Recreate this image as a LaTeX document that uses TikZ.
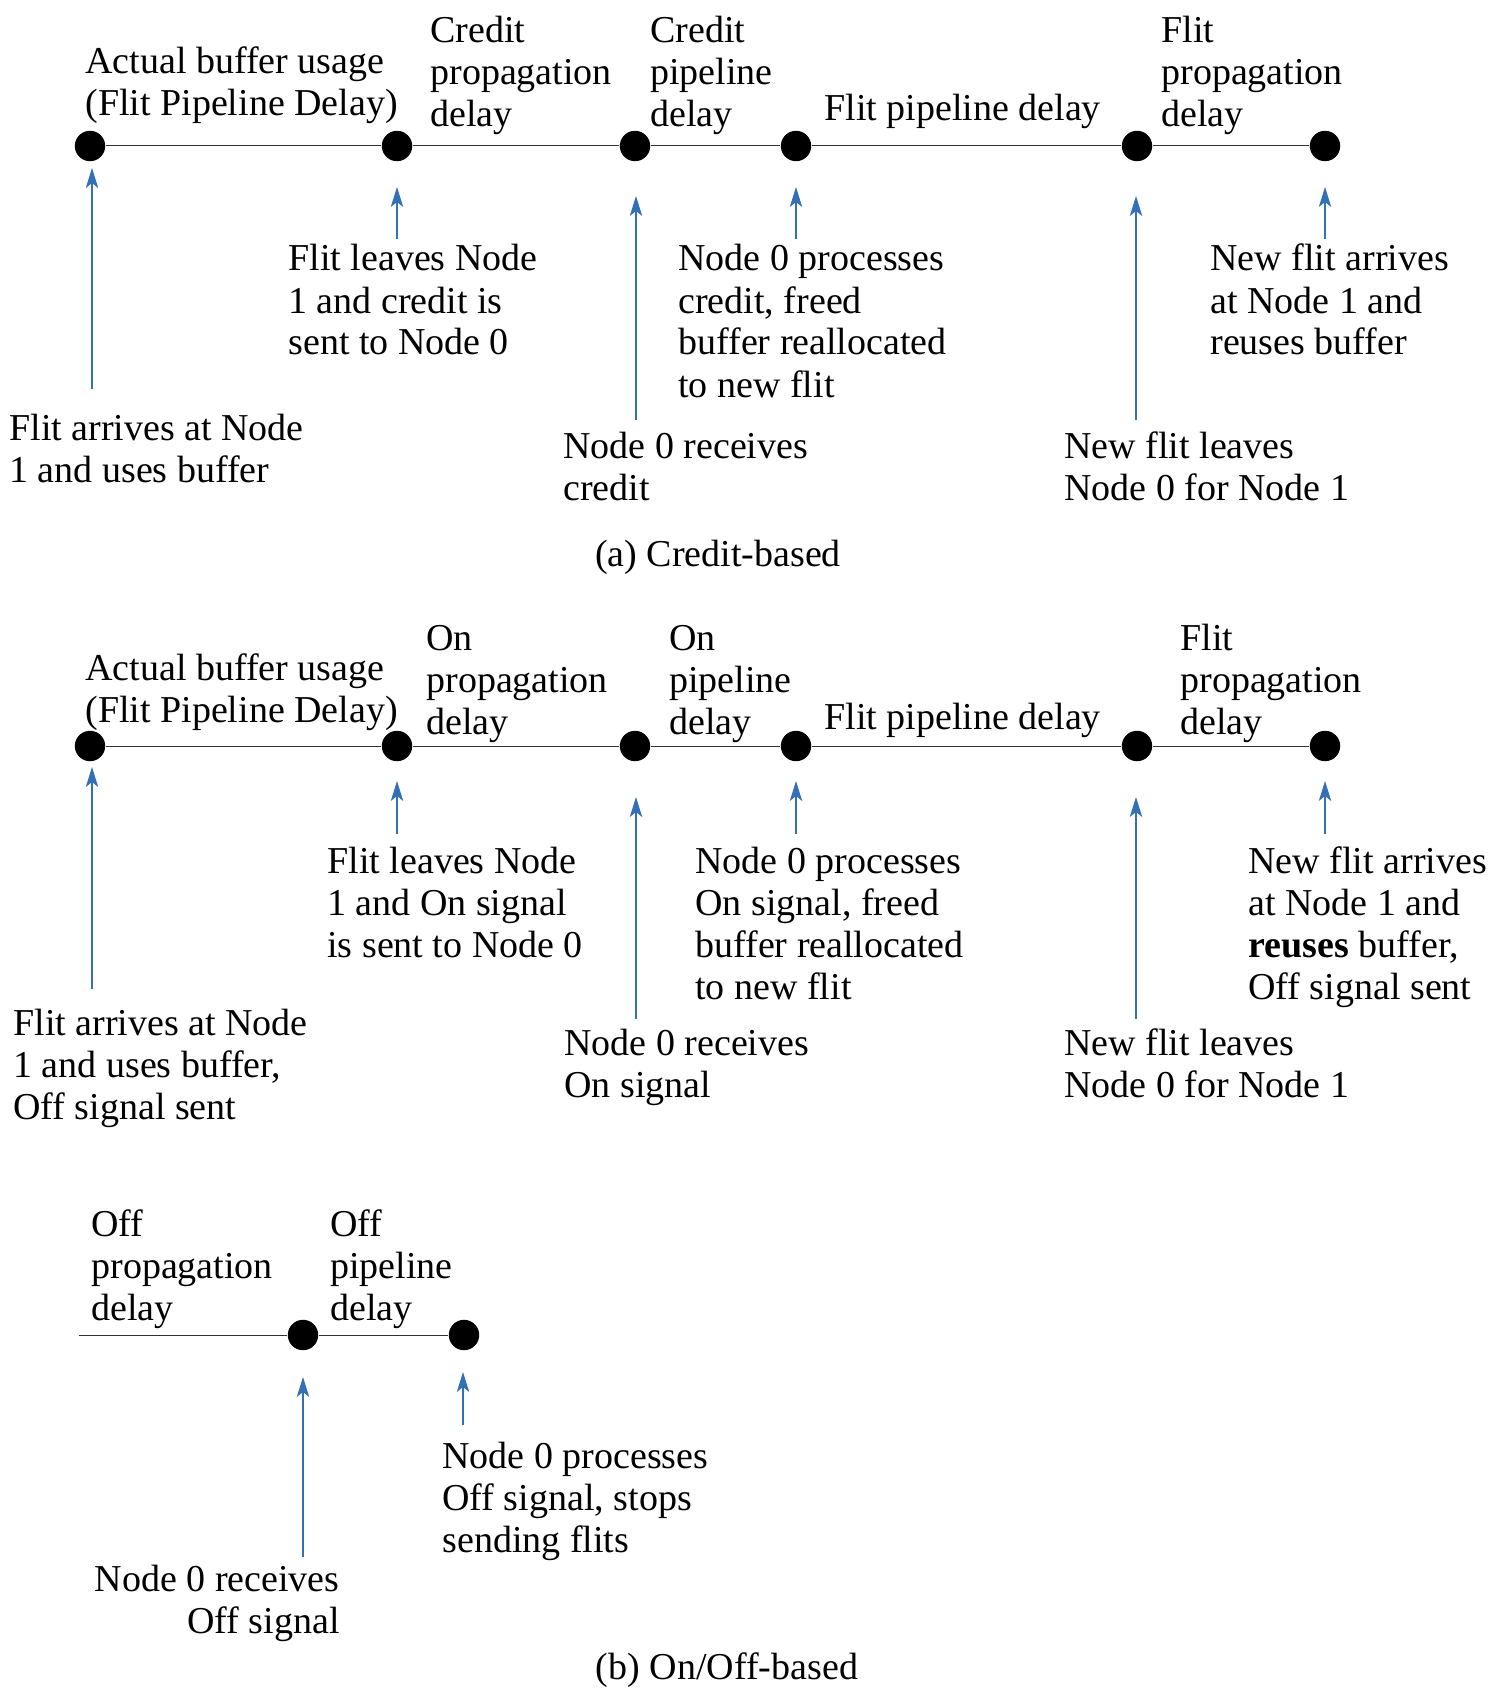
\documentclass[tikz,border=0pt]{standalone}
\usepackage{fontspec}
\setmainfont{Liberation Serif}
\usetikzlibrary{arrows.meta}
\definecolor{arrblue}{RGB}{52,112,180}
\definecolor{linegray}{RGB}{50,50,50}
\newcommand{\mylines}[1]{\begin{tabular}[t]{@{}l@{}}#1\end{tabular}}
\newcommand{\myrlines}[1]{\begin{tabular}[t]{@{}r@{}}#1\end{tabular}}
\tikzset{
  dot/.style={circle, fill=black, inner sep=0pt, minimum size=15.2pt},
  tline/.style={draw=linegray, line width=0.5pt},
  arr/.style={draw=arrblue, line width=0.6pt, -{Stealth[length=10pt, width=6.2pt, inset=2.5pt]}},
  txt/.style={inner sep=0pt, anchor=base west, yshift=-1.5pt, font=\fontsize{19}{21}\selectfont},
  rtxt/.style={inner sep=0pt, anchor=base east, yshift=-1.5pt, font=\fontsize{19}{21}\selectfont},
  captxt/.style={inner sep=0pt, anchor=base, font=\fontsize{19}{21}\selectfont}
}
\begin{document}
\begin{tikzpicture}[x=0.5pt, y=-0.5pt]
\useasboundingbox (0,0) rectangle (1492,1706);
% ---------------- (a) ----------------
\node[dot] (a1) at (90,146) {};
\node[dot] (a2) at (397,146) {};
\node[dot] (a3) at (635,146) {};
\node[dot] (a4) at (796,146) {};
\node[dot] (a5) at (1137,146) {};
\node[dot] (a6) at (1325,146) {};
\draw[tline] (a1) -- (a2) -- (a3) -- (a4) -- (a5) -- (a6);

\node[txt] (ta1) at (85,71) {\mylines{Actual buffer usage\\(Flit Pipeline Delay)}};
\node[txt] (ta2) at (430,40) {\mylines{Credit\\propagation\\delay}};
\node[txt] (ta3) at (650,40) {\mylines{Credit\\pipeline\\delay}};
\node[txt] (ta4) at (824,118) {Flit pipeline delay};
\node[txt] (ta5) at (1161,40) {\mylines{Flit\\propagation\\delay}};

\node[txt] (ba1) at (9,437) {\mylines{Flit arrives at Node\\1 and uses buffer}};
\node[txt] (ba2) at (288,268) {\mylines{Flit leaves Node\\1 and credit is\\sent to Node 0}};
\node[txt] (ba3) at (563,455) {\mylines{Node 0 receives\\credit}};
\node[txt] (ba4) at (678,268) {\mylines{Node 0 processes\\credit, freed\\buffer reallocated\\to new flit}};
\node[txt] (ba5) at (1064,455) {\mylines{New flit leaves\\Node 0 for Node 1}};
\node[txt] (ba6) at (1210,268) {\mylines{New flit arrives\\at Node 1 and\\reuses buffer}};

\coordinate (pa1s) at (92,389);  \coordinate (pa1e) at (92,168);
\coordinate (pa2s) at (397,239); \coordinate (pa2e) at (397,187);
\coordinate (pa3s) at (636,420); \coordinate (pa3e) at (636,196);
\coordinate (pa4s) at (796,239); \coordinate (pa4e) at (796,187);
\coordinate (pa5s) at (1136,420); \coordinate (pa5e) at (1136,196);
\coordinate (pa6s) at (1325,239); \coordinate (pa6e) at (1325,187);
\draw[arr] (pa1s) -- (pa1e);
\draw[arr] (pa2s) -- (pa2e);
\draw[arr] (pa3s) -- (pa3e);
\draw[arr] (pa4s) -- (pa4e);
\draw[arr] (pa5s) -- (pa5e);
\draw[arr] (pa6s) -- (pa6e);

\node[captxt] (capa) at (718,566) {(a) Credit-based};

% ---------------- (b) ----------------
\node[dot] (b1) at (90,746) {};
\node[dot] (b2) at (397,746) {};
\node[dot] (b3) at (635,746) {};
\node[dot] (b4) at (796,746) {};
\node[dot] (b5) at (1137,746) {};
\node[dot] (b6) at (1325,746) {};
\draw[tline] (b1) -- (b2) -- (b3) -- (b4) -- (b5) -- (b6);

\node[txt] (tb1) at (85,677) {\mylines{Actual buffer usage\\(Flit Pipeline Delay)}};
\node[txt] (tb2) at (426,647) {\mylines{On\\propagation\\delay}};
\node[txt] (tb3) at (669,647) {\mylines{On\\pipeline\\delay}};
\node[txt] (tb4) at (824,726) {Flit pipeline delay};
\node[txt] (tb5) at (1180,647) {\mylines{Flit\\propagation\\delay}};

\node[txt] (bb1) at (13,1032) {\mylines{Flit arrives at Node\\1 and uses buffer,\\Off signal sent}};
\node[txt] (bb2) at (327,870) {\mylines{Flit leaves Node\\1 and On signal\\is sent to Node 0}};
\node[txt] (bb3) at (564,1052) {\mylines{Node 0 receives\\On signal}};
\node[txt] (bb4) at (695,870) {\mylines{Node 0 processes\\On signal, freed\\buffer reallocated\\to new flit}};
\node[txt] (bb5) at (1064,1052) {\mylines{New flit leaves\\Node 0 for Node 1}};
\node[txt] (bb6) at (1248,870) {\mylines{New flit arrives\\at Node 1 and\\\textbf{reuses} buffer,\\Off signal sent}};

\coordinate (pb1s) at (92,989);  \coordinate (pb1e) at (92,767);
\coordinate (pb2s) at (397,834); \coordinate (pb2e) at (397,781);
\coordinate (pb3s) at (636,1019); \coordinate (pb3e) at (636,797);
\coordinate (pb4s) at (796,834); \coordinate (pb4e) at (796,781);
\coordinate (pb5s) at (1136,1019); \coordinate (pb5e) at (1136,797);
\coordinate (pb6s) at (1325,834); \coordinate (pb6e) at (1325,781);
\draw[arr] (pb1s) -- (pb1e);
\draw[arr] (pb2s) -- (pb2e);
\draw[arr] (pb3s) -- (pb3e);
\draw[arr] (pb4s) -- (pb4e);
\draw[arr] (pb5s) -- (pb5e);
\draw[arr] (pb6s) -- (pb6e);

% ---------------- (b) continued: Off ----------------
\coordinate (c0) at (79,1335);
\node[dot] (c1) at (303,1335) {};
\node[dot] (c2) at (464,1335) {};
\draw[tline] (c0) -- (c1) -- (c2);

\node[txt] (tc1) at (91,1233) {\mylines{Off\\propagation\\delay}};
\node[txt] (tc2) at (330,1233) {\mylines{Off\\pipeline\\delay}};
\node[txt] (bc2) at (442,1465) {\mylines{Node 0 processes\\Off signal, stops\\sending flits}};
\node[rtxt] (bc1) at (340,1588) {\myrlines{Node 0 receives\\Off signal}};

\coordinate (pc1s) at (303,1557); \coordinate (pc1e) at (303,1377);
\coordinate (pc2s) at (463,1425); \coordinate (pc2e) at (463,1372);
\draw[arr] (pc1s) -- (pc1e);
\draw[arr] (pc2s) -- (pc2e);

\node[captxt] (capb) at (727,1679) {(b) On/Off-based};
\end{tikzpicture}
\end{document}
